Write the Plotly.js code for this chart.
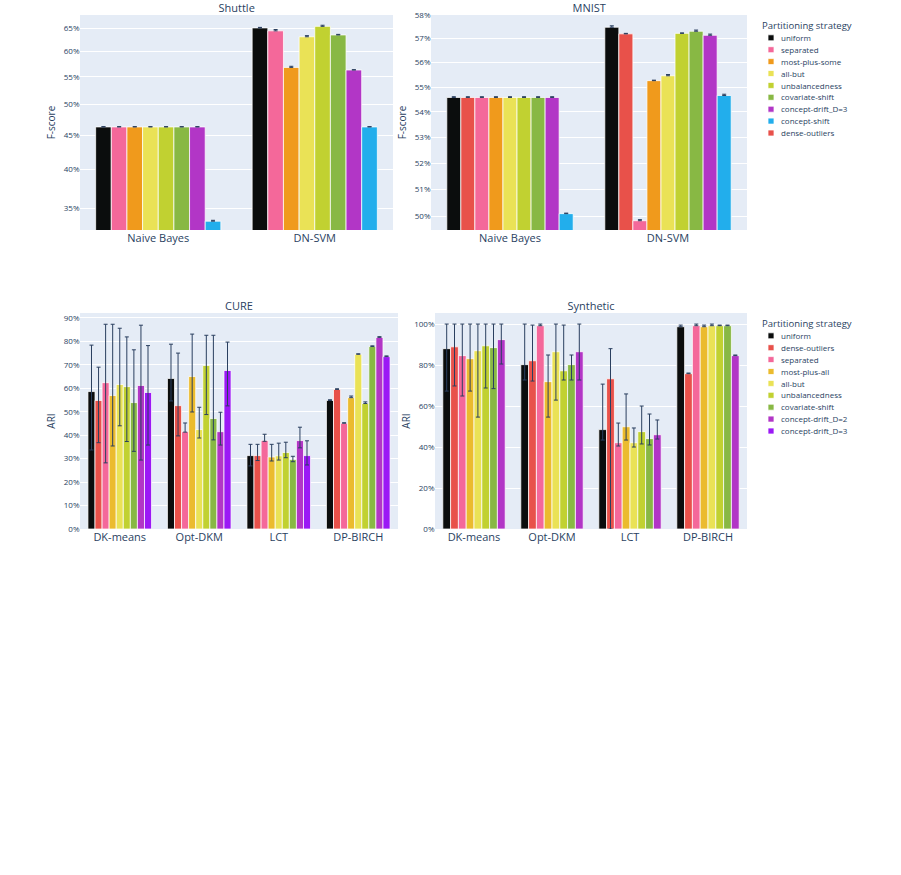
<!DOCTYPE html>
<html>
<head>
<meta charset="utf-8">
<script src="https://cdn.plot.ly/plotly-3.0.1.min.js"></script>
<style>
  html, body { margin: 0; padding: 0; background: #ffffff; overflow: hidden; }
  #wrap { width: 901px; height: 875px; overflow: hidden; position: relative; }
  #chart { width: 1802px; height: 1750px; transform: scale(0.5); transform-origin: 0 0; }
</style>
</head>
<body>
<div id="wrap"><div id="chart"></div></div>
<script>
// ---------------- DATA (values in percent) ----------------
const shuttleCategories = ['Naive Bayes', 'DN-SVM'];
const shuttleStrategies = ['uniform', 'separated', 'most-plus-some', 'all-but', 'unbalancedness', 'covariate-shift', 'concept-drift_D=3', 'concept-shift'];
const shuttleValues = [
  [46.3, 65.05], [46.3, 64.4], [46.3, 56.8], [46.3, 63.1],
  [46.3, 65.4], [46.3, 63.5], [46.3, 56.3], [33.5, 46.3]
];
const shuttleErrPlus = [
  [0.05, 0.12], [0.05, 0.3], [0.05, 0.22], [0.05, 0.25],
  [0.05, 0.25], [0.05, 0.12], [0.05, 0.06], [0.1, 0.05]
];
const shuttleErrMinus = [
  [0, 0], [0, 0], [0, 0], [0, 0], [0, 0], [0, 0], [0, 0], [0, 0]
];

const mnistCategories = ['Naive Bayes', 'DN-SVM'];
const mnistStrategies = ['uniform', 'dense-outliers', 'separated', 'most-plus-some', 'all-but', 'unbalancedness', 'covariate-shift', 'concept-drift_D=3', 'concept-shift'];
const mnistValues = [
  [54.58, 57.48], [54.58, 57.2], [54.58, 49.84], [54.58, 55.26], [54.58, 55.46],
  [54.58, 57.22], [54.58, 57.31], [54.58, 57.14], [50.1, 54.66]
];
const mnistErrPlus = [
  [0.03, 0.06], [0.03, 0.02], [0.03, 0.04], [0.03, 0.02], [0.03, 0.05],
  [0.03, 0.02], [0.03, 0.05], [0.03, 0.05], [0.02, 0.05]
];
const mnistErrMinus = [
  [0, 0], [0, 0], [0, 0], [0, 0], [0, 0], [0, 0], [0, 0], [0, 0], [0, 0]
];

const cureCategories = ['DK-means', 'Opt-DKM', 'LCT', 'DP-BIRCH'];
const cureStrategies = ['uniform', 'dense-outliers', 'separated', 'most-plus-all', 'all-but', 'unbalancedness', 'covariate-shift', 'concept-drift_D=2', 'concept-drift_D=3'];
const cureValues = [
  [58.6, 64.2, 31.3, 54.8],
  [54.8, 52.6, 31.3, 59.5],
  [62.4, 41.5, 37.7, 45.1],
  [56.9, 65.0, 30.7, 56.0],
  [61.6, 42.4, 31.2, 74.5],
  [60.7, 69.7, 32.6, 53.5],
  [53.9, 47.1, 29.6, 77.8],
  [61.2, 41.5, 37.7, 81.7],
  [58.2, 67.6, 31.3, 73.5]
];
const cureErrPlus = [
  [19.8, 14.6, 4.8, 0.3],
  [14.2, 22.4, 4.8, 0.3],
  [24.9, 3.7, 2.7, 0.2],
  [30.4, 18.1, 5.4, 0.7],
  [24.0, 9.5, 5.4, 0.2],
  [21.2, 12.9, 4.4, 0.7],
  [22.5, 35.5, 1.4, 0.3],
  [25.7, 8.3, 5.7, 0.3],
  [20.0, 12.1, 6.3, 0.3]
];
const cureErrMinus = [
  [24.9, 9.6, 4.4, 0],
  [18.0, 12.9, 2.1, 0],
  [34.2, 0.2, 0.3, 0],
  [21.5, 15.1, 1.7, 0],
  [17.6, 3.6, 1.8, 0],
  [23.4, 20.9, 2.2, 0],
  [20.8, 9.1, 0.9, 0],
  [31.8, 5.7, 3.1, 0],
  [22.4, 15.1, 4.0, 0]
];

const synthCategories = ['DK-means', 'Opt-DKM', 'LCT', 'DP-BIRCH'];
const synthStrategies = ['uniform', 'dense-outliers', 'separated', 'most-plus-all', 'all-but', 'unbalancedness', 'covariate-shift', 'concept-drift_D=2'];
const synthValues = [
  [88.0, 80.2, 48.5, 98.7],
  [88.9, 82.1, 73.3, 75.8],
  [84.6, 99.2, 42.1, 99.2],
  [83.1, 71.9, 49.9, 98.7],
  [87.0, 86.5, 42.1, 99.2],
  [89.4, 77.2, 47.5, 99.2],
  [88.5, 80.2, 44.1, 99.2],
  [92.4, 86.5, 46.0, 84.6]
];
const synthErrPlus = [
  [12.0, 19.8, 22.2, 0.8],
  [11.1, 17.4, 14.7, 0.3],
  [15.4, 0.8, 9.6, 0.8],
  [16.9, 13.0, 16.0, 0.8],
  [13.0, 13.5, 7.2, 0.8],
  [10.6, 22.3, 12.5, 0.3],
  [11.5, 4.7, 12.0, 0.3],
  [7.6, 13.5, 7.2, 0.3]
];
const synthErrMinus = [
  [20.7, 7.5, 5.1, 0],
  [19.1, 9.9, 73.3, 0],
  [19.7, 0, 1.6, 0],
  [15.8, 17.3, 6.5, 0],
  [32.4, 23.6, 2.1, 0],
  [20.6, 4.5, 6.0, 0],
  [20.0, 7.5, 3.1, 0],
  [11.9, 13.8, 2.1, 0]
];

const fscoreTicksShuttle = [35, 40, 45, 50, 55, 60, 65];
const fscoreTicksMnist = [50, 51, 52, 53, 54, 55, 56, 57, 58];

// ---------------- STYLES ----------------
const topColors = {
  'uniform': '#0b0d0d', 'dense-outliers': '#E8514A', 'separated': '#F4689A',
  'most-plus-some': '#F09A1C', 'all-but': '#EAE256', 'unbalancedness': '#C1D131',
  'covariate-shift': '#88B844', 'concept-drift_D=3': '#B236C6', 'concept-shift': '#22AEEC'
};
const bottomColors = {
  'uniform': '#0b0d0d', 'dense-outliers': '#E8514A', 'separated': '#F4689A',
  'most-plus-all': '#EBBB2E', 'all-but': '#EAE256', 'unbalancedness': '#C1D131',
  'covariate-shift': '#88B844', 'concept-drift_D=2': '#B236C6', 'concept-drift_D=3': '#9B19F5'
};

const W = 901, H = 875;
const px = v => v / W;
const py = v => 1 - v / H;

const traces = [];
function addTraces(cats, strategies, values, plus, minus, colors, xa, ya, legendId, shown) {
  strategies.forEach((s, i) => {
    const showIt = !shown.has(s);
    shown.add(s);
    traces.push({
      type: 'bar',
      name: s,
      x: cats,
      y: values[i],
      xaxis: xa, yaxis: ya,
      legend: legendId,
      legendgroup: legendId + s,
      showlegend: showIt,
      marker: { color: colors[s], line: { color: '#ffffff', width: 1.5 } },
      error_y: {
        type: 'data', symmetric: false,
        array: plus[i], arrayminus: minus[i],
        color: '#2a3f5f', thickness: 2, width: 4
      }
    });
  });
}
const shownTop = new Set();
const shownBottom = new Set();
addTraces(shuttleCategories, shuttleStrategies, shuttleValues, shuttleErrPlus, shuttleErrMinus, topColors, 'x', 'y', 'legend', shownTop);
addTraces(mnistCategories, mnistStrategies, mnistValues, mnistErrPlus, mnistErrMinus, topColors, 'x2', 'y2', 'legend', shownTop);
addTraces(cureCategories, cureStrategies, cureValues, cureErrPlus, cureErrMinus, bottomColors, 'x3', 'y3', 'legend2', shownBottom);
addTraces(synthCategories, synthStrategies, synthValues, synthErrPlus, synthErrMinus, bottomColors, 'x4', 'y4', 'legend2', shownBottom);

const xBase = {
  showgrid: false, ticks: '', zeroline: false, showline: false,
  tickfont: { size: 22 }, automargin: false, fixedrange: true
};
const yBase = {
  showgrid: true, gridcolor: '#ffffff', gridwidth: 2, ticks: '', zeroline: false,
  showline: false, ticksuffix: '%', tickfont: { size: 16 }, automargin: false, fixedrange: true
};

const layout = {
  width: 1802, height: 1750,
  margin: { l: 0, r: 0, t: 0, b: 0 },
  paper_bgcolor: '#ffffff',
  plot_bgcolor: '#E5ECF6',
  font: { family: '"Open Sans", Verdana, Arial, sans-serif', color: '#2a3f5f', size: 16 },
  barmode: 'group', bargap: 0.2, bargroupgap: 0,
  xaxis: Object.assign({}, xBase, { domain: [px(80), px(393)], anchor: 'y' }),
  yaxis: Object.assign({}, yBase, {
    domain: [py(230), py(15)], anchor: 'x', type: 'log',
    range: [Math.log10(32.5), Math.log10(68)],
    tickmode: 'array', tickvals: fscoreTicksShuttle, ticktext: fscoreTicksShuttle.map(v => v + '%'),
    title: { text: 'F-score', font: { size: 20 } }
  }),
  xaxis2: Object.assign({}, xBase, { domain: [px(431), px(747)], anchor: 'y2' }),
  yaxis2: Object.assign({}, yBase, {
    domain: [py(230), py(15)], anchor: 'x2', type: 'log',
    range: [Math.log10(49.5), Math.log10(58)],
    tickmode: 'array', tickvals: fscoreTicksMnist, ticktext: fscoreTicksMnist.map(v => v + '%'),
    title: { text: 'F-score', font: { size: 20 } }
  }),
  xaxis3: Object.assign({}, xBase, { domain: [px(80), px(398)], anchor: 'y3' }),
  yaxis3: Object.assign({}, yBase, {
    domain: [py(529), py(313)], anchor: 'x3',
    range: [0, 92.1], dtick: 10,
    title: { text: 'ARI', font: { size: 20 } }
  }),
  xaxis4: Object.assign({}, xBase, { domain: [px(435), px(747)], anchor: 'y4' }),
  yaxis4: Object.assign({}, yBase, {
    domain: [py(529), py(313)], anchor: 'x4',
    range: [0, 105.4], dtick: 20,
    title: { text: 'ARI', font: { size: 20 } }
  }),
  legend: {
    x: px(761), y: py(17), xanchor: 'left', yanchor: 'top',
    bgcolor: 'rgba(0,0,0,0)', font: { size: 16 }, tracegroupgap: 0,
    title: { text: 'Partitioning strategy', font: { size: 19 } }
  },
  legend2: {
    x: px(761), y: py(315), xanchor: 'left', yanchor: 'top',
    bgcolor: 'rgba(0,0,0,0)', font: { size: 16 }, tracegroupgap: 0,
    title: { text: 'Partitioning strategy', font: { size: 19 } }
  },
  annotations: [
    { text: 'Shuttle', x: px(237), y: py(7), xref: 'paper', yref: 'paper', showarrow: false, font: { size: 22 }, xanchor: 'center', yanchor: 'middle' },
    { text: 'MNIST', x: px(589), y: py(7), xref: 'paper', yref: 'paper', showarrow: false, font: { size: 22 }, xanchor: 'center', yanchor: 'middle' },
    { text: 'CURE', x: px(239), y: py(305), xref: 'paper', yref: 'paper', showarrow: false, font: { size: 22 }, xanchor: 'center', yanchor: 'middle' },
    { text: 'Synthetic', x: px(591), y: py(305), xref: 'paper', yref: 'paper', showarrow: false, font: { size: 22 }, xanchor: 'center', yanchor: 'middle' }
  ]
};

Plotly.newPlot('chart', traces, layout, { displayModeBar: false, responsive: false, staticPlot: true });
</script>
</body>
</html>
